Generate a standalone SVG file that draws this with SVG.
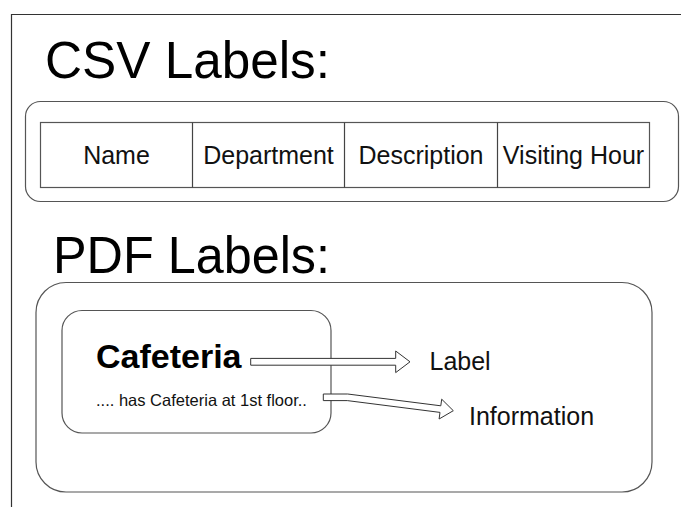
<svg xmlns="http://www.w3.org/2000/svg" width="681" height="507" viewBox="0 0 681 507">
  <style>
    .frame { fill: none; stroke: #333; stroke-width: 1.2; }
    .box { fill: #fff; stroke: #555; stroke-width: 1.2; }
    .cell { fill: #fff; stroke: #555; stroke-width: 1.2; }
    .div { stroke: #444; stroke-width: 1.2; }
    .arrow { fill: #fff; stroke: #333; stroke-width: 1; stroke-linejoin: miter; }
    .title { font-family: "Liberation Sans", Arial, sans-serif; font-size: 52px; fill: #000; }
    .cellText { font-family: "Liberation Sans", Arial, sans-serif; font-size: 25px; fill: #111; text-anchor: middle; }
    .label { font-family: "Liberation Sans", Arial, sans-serif; font-size: 25px; fill: #111; }
    .heading { font-family: "Liberation Sans", Arial, sans-serif; font-size: 34px; font-weight: bold; fill: #000; }
    .body { font-family: "Liberation Sans", Arial, sans-serif; font-size: 16.5px; fill: #111; }
  </style>

  <rect width="681" height="507" fill="#fff"/>

  <!-- page frame -->
  <path class="frame" d="M11.5,507 V14.5 H681"/>

  <!-- CSV section -->
  <g id="csv-title">
    <text class="title" x="45" y="78" textLength="285" lengthAdjust="spacingAndGlyphs">CSV Labels:</text>
  </g>
  <g id="csv-container">
    <rect class="box" x="25.5" y="101.5" width="653" height="100" rx="15" ry="15"/>
  </g>
  <g id="csv-table">
    <rect class="cell" x="40.5" y="122.5" width="609" height="65"/>
    <line class="div" x1="192.5" y1="122.5" x2="192.5" y2="187.5"/>
    <line class="div" x1="344.5" y1="122.5" x2="344.5" y2="187.5"/>
    <line class="div" x1="497.5" y1="122.5" x2="497.5" y2="187.5"/>
  </g>
  <g id="col-name"><text class="cellText" x="116.5" y="164">Name</text></g>
  <g id="col-department"><text class="cellText" x="268.5" y="164">Department</text></g>
  <g id="col-description"><text class="cellText" x="421" y="164">Description</text></g>
  <g id="col-visiting-hour"><text class="cellText" x="573.5" y="164">Visiting Hour</text></g>

  <!-- PDF section -->
  <g id="pdf-title">
    <text class="title" x="53" y="273" textLength="277" lengthAdjust="spacingAndGlyphs">PDF Labels:</text>
  </g>
  <g id="pdf-container">
    <rect class="box" x="36" y="282.5" width="616" height="209.5" rx="30" ry="30"/>
  </g>
  <g id="pdf-sample">
    <rect class="box" x="62" y="310.5" width="269" height="122.5" rx="20" ry="20"/>
    <text class="heading" x="96" y="367.7">Cafeteria</text>
    <text class="body" x="96" y="406">.... has Cafeteria at 1st floor..</text>
  </g>

  <!-- block arrows -->
  <g id="connectors">
    <polygon class="arrow" points="250.7,358.4 395.7,358.4 395.7,351 410,361.8 395.7,372.6 395.7,365.2 250.7,365.2"/>
    <polygon class="arrow" points="323.3,394 347.7,394 440.8,405.8 441.7,399.2 453.3,410.7 439.1,419 440,412.4 347.3,400.6 323.3,400.6"/>
  </g>

  <g id="label-label"><text class="label" x="429.5" y="370">Label</text></g>
  <g id="label-information"><text class="label" x="469" y="425">Information</text></g>
</svg>
